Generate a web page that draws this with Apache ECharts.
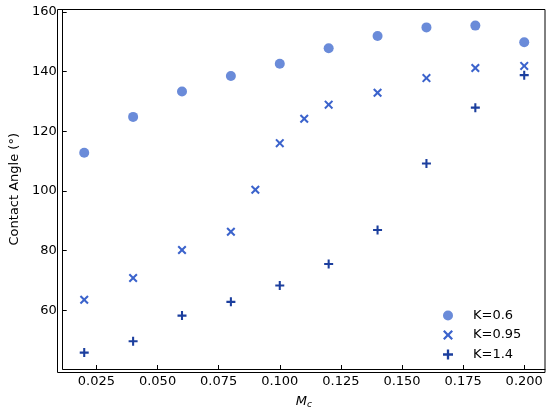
<!DOCTYPE html>
<html><head><meta charset="utf-8">
<script src="https://cdn.jsdelivr.net/npm/echarts@6/dist/echarts.min.js"></script>
<style>html,body{margin:0;padding:0;background:#fff}#c{width:550px;height:414px}</style>
</head><body><div id="c"></div>
<script>
const xK06 = [0.02,0.04,0.06,0.08,0.10,0.12,0.14,0.16,0.18,0.20];
const yK06 = [112.8,124.8,133.3,138.5,142.6,147.8,151.9,154.8,155.4,149.8];
const xK095 = [0.02,0.04,0.06,0.08,0.09,0.10,0.11,0.12,0.14,0.16,0.18,0.20];
const yK095 = [63.5,70.8,80.2,86.3,100.4,116.0,124.2,128.9,132.9,137.8,141.2,141.9];
const xK14 = [0.02,0.04,0.06,0.08,0.10,0.12,0.14,0.16,0.18,0.20];
const yK14 = [45.8,49.6,58.2,62.8,68.3,75.5,86.9,109.2,127.9,138.8];
const seriesNames = ['K=0.6','K=0.95','K=1.4'];
const xTickLabels = ['0.025','0.050','0.075','0.100','0.125','0.150','0.175','0.200'];
const yTickLabels = ['60','80','100','120','140','160'];

const FONT = 'DejaVu Sans';
const XPATH = 'path://M0,1.6L1.6,0L5,3.4L8.4,0L10,1.6L6.6,5L10,8.4L8.4,10L5,6.6L1.6,10L0,8.4L3.4,5Z';
const PPATH = 'path://M3.85,0h2.3v3.85h3.85v2.3h-3.85v3.85h-2.3v-3.85h-3.85v-2.3h3.85z';
const zip = (a,b)=>a.map((v,i)=>[v,b[i]]);
const xTickVals = xTickLabels.map(Number);
const yTickVals = yTickLabels.map(Number);
function fmt(list){
  return function(v){
    for (const s of list){ if (Math.abs(parseFloat(s)-v) < 1e-6) return s; }
    return '';
  };
}
const chart = echarts.init(document.getElementById('c'), null, {renderer:'canvas'});
chart.setOption({
  animation:false,
  backgroundColor:'#ffffff',
  grid:{left:57.5,right:5,top:9.5,bottom:41.5,containLabel:false,show:false},
  xAxis:{
    type:'value',min:0.0112,max:0.2085,
    name:'{i|M}{s|c}',nameLocation:'middle',nameGap:25,
    nameTextStyle:{rich:{i:{fontFamily:FONT,fontSize:13,fontStyle:'italic',color:'#000'},s:{fontFamily:FONT,fontSize:9,fontStyle:'italic',color:'#000',padding:[6,0,0,0]}}},
    axisLine:{show:true,onZero:false,lineStyle:{color:'#000',width:1}},
    axisTick:{show:true,inside:true,length:4,customValues:xTickVals,lineStyle:{color:'#000',width:1}},
    axisLabel:{customValues:xTickVals,formatter:fmt(xTickLabels),fontFamily:FONT,fontSize:13,color:'#000',margin:6},
    splitLine:{show:false}
  },
  yAxis:{
    type:'value',min:40.3,max:160.8,
    name:'Contact Angle (°)',nameLocation:'middle',nameGap:40,
    nameTextStyle:{fontFamily:FONT,fontSize:13,color:'#000'},
    axisLine:{show:true,onZero:false,lineStyle:{color:'#000',width:1}},
    axisTick:{show:true,inside:true,length:4,customValues:yTickVals,lineStyle:{color:'#000',width:1}},
    axisLabel:{customValues:yTickVals,formatter:fmt(yTickLabels),fontFamily:FONT,fontSize:13,color:'#000',margin:6},
    splitLine:{show:false}
  },
  legend:{
    orient:'vertical',left:438,top:304,itemWidth:40,itemHeight:10,itemGap:6.5,
    textStyle:{fontFamily:FONT,fontSize:13,color:'#000'},
    data:seriesNames
  },
  graphic:[{type:'rect',shape:{x:57.5,y:9.5,width:487.5,height:363},style:{fill:'none',stroke:'#000',lineWidth:1},silent:true,z:100}],
  series:[
    {name:seriesNames[0],type:'scatter',data:zip(xK06,yK06),symbol:'circle',symbolSize:10,itemStyle:{color:'#6a8bd9',opacity:1}},
    {name:seriesNames[1],type:'scatter',data:zip(xK095,yK095),symbol:XPATH,symbolSize:9,itemStyle:{color:'#3b63cc',opacity:1}},
    {name:seriesNames[2],type:'scatter',data:zip(xK14,yK14),symbol:PPATH,symbolSize:9,itemStyle:{color:'#1c3f9e',opacity:1}}
  ]
});
</script></body></html>
